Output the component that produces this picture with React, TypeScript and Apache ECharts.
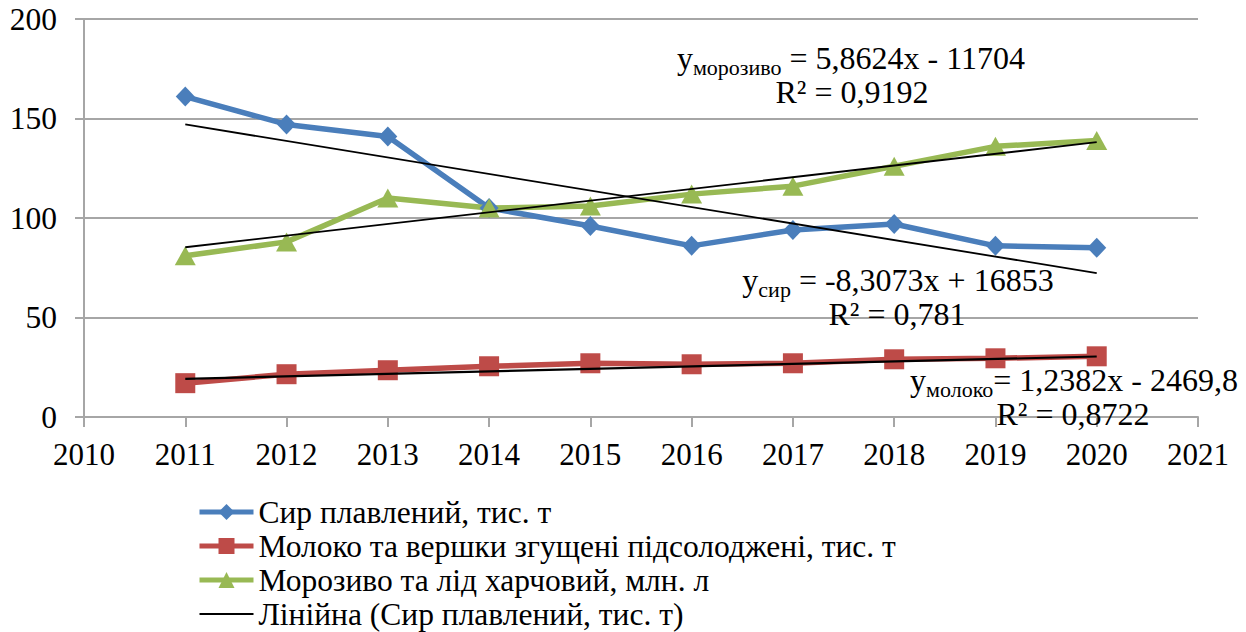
import React, { useEffect, useRef } from "react";
import * as echarts from "echarts";

const years = [2011, 2012, 2013, 2014, 2015, 2016, 2017, 2018, 2019, 2020];
const sir = [161, 147, 141, 105, 96, 86, 94, 97, 86, 85];
const moloko = [17, 21.5, 23.5, 25.5, 27, 26.5, 27, 29, 29.5, 30.5];
const morozivo = [81, 88, 110, 105, 106, 112, 116, 126, 136, 139];

const trendYears = [2011, 2020];
const sirTrend = [147.0, 72.3];
const molokoTrend = [19.2, 30.4];
const morozivoTrend = [85.3, 138.1];

const names = [
  "Сир плавлений, тис. т",
  "Молоко та вершки згущені підсолоджені, тис. т",
  "Морозиво та лід харчовий, млн. л",
  "Лінійна (Сир плавлений, тис. т)",
];

const FONT = "'Liberation Serif', 'Times New Roman', serif";
const GRID = "#a6a6a6";

const pairs = (xs: number[], ys: number[]) => xs.map((x, i) => [x, ys[i]]);

export default function App() {
  const ref = useRef<HTMLDivElement>(null);
  useEffect(() => {
    if (!ref.current) return;
    const chart = echarts.init(ref.current, null, { renderer: "svg" });
    const rich = {
      m: { fontFamily: FONT, fontSize: 32, lineHeight: 40, color: "#000" },
      s: { fontFamily: FONT, fontSize: 22, lineHeight: 21, verticalAlign: "bottom", color: "#000" },
    };
    const eq = (x: number, y: number, sub: string, rest: string) => ({
      type: "text",
      x,
      y,
      z: 10,
      style: {
        text: `{m|y}{s|${sub}}{m|${rest}}`,
        rich,
        align: "center",
        verticalAlign: "middle",
        fontFamily: FONT,
        fontSize: 32,
      },
    });
    const r2 = (x: number, y: number, t: string) => ({
      type: "text",
      x,
      y,
      z: 10,
      style: {
        text: t,
        align: "center",
        verticalAlign: "middle",
        fontFamily: FONT,
        fontSize: 32,
        fill: "#000",
      },
    });
    chart.setOption({
      animation: false,
      textStyle: { fontFamily: FONT },
      grid: { left: 84, right: 48, top: 19, bottom: 215 },
      xAxis: {
        type: "value",
        min: 2010,
        max: 2021,
        interval: 1,
        axisLine: { lineStyle: { color: GRID, width: 2 } },
        axisTick: { show: true, length: 10, lineStyle: { color: GRID, width: 2 } },
        splitLine: { show: false },
        axisLabel: {
          formatter: (v: number) => String(v),
          fontFamily: FONT,
          fontSize: 31,
          color: "#000",
          margin: 22,
        },
      },
      yAxis: {
        type: "value",
        min: 0,
        max: 200,
        interval: 50,
        axisLine: { show: true, lineStyle: { color: GRID, width: 2 } },
        axisTick: { show: true, length: 9, lineStyle: { color: GRID, width: 2 } },
        splitLine: { lineStyle: { color: GRID, width: 2 } },
        axisLabel: { fontFamily: FONT, fontSize: 31.5, color: "#000", margin: 27 },
      },
      legend: {
        orient: "vertical",
        left: 197,
        top: 496,
        padding: 0,
        itemWidth: 54,
        itemHeight: 20,
        itemGap: 2,
        textStyle: { fontFamily: FONT, fontSize: 31.5, lineHeight: 32, color: "#000" },
        data: [
          { name: names[0], lineStyle: { width: 5 } },
          { name: names[1], lineStyle: { width: 5 } },
          { name: names[2], lineStyle: { width: 5 } },
          {
            name: names[3],
            lineStyle: { width: 2, color: "#000" },
            itemStyle: { color: "rgba(0,0,0,0)", borderWidth: 0 },
          },
        ],
      },
      graphic: [
        eq(851, 58, "морозиво", " = 5,8624x - 11704"),
        r2(852, 92, "R² = 0,9192"),
        eq(898, 280, "сир", " = -8,3073x + 16853"),
        r2(897, 314, "R² = 0,781"),
        eq(1074, 380, "молоко", "= 1,2382x - 2469,8"),
        r2(1073, 414, "R² = 0,8722"),
      ],
      series: [
        {
          name: names[0],
          type: "line",
          data: pairs(years, sir),
          symbol: "diamond",
          symbolSize: [19, 20],
          lineStyle: { color: "#4a7ebb", width: 5.5 },
          itemStyle: { color: "#4a7ebb" },
        },
        {
          name: names[1],
          type: "line",
          data: pairs(years, moloko),
          symbol: "rect",
          symbolSize: 20,
          lineStyle: { color: "#be4b48", width: 5.5 },
          itemStyle: { color: "#be4b48" },
        },
        {
          name: names[2],
          type: "line",
          data: pairs(years, morozivo),
          symbol: "triangle",
          symbolSize: [21, 19],
          lineStyle: { color: "#98b954", width: 5.5 },
          itemStyle: { color: "#98b954" },
        },
        {
          name: names[3],
          type: "line",
          data: pairs(trendYears, sirTrend),
          symbol: "none",
          lineStyle: { color: "#000", width: 1.8 },
          itemStyle: { color: "#000" },
          z: 5,
        },
        {
          name: "Лінійна (Молоко)",
          type: "line",
          data: pairs(trendYears, molokoTrend),
          symbol: "none",
          lineStyle: { color: "#000", width: 2.2 },
          itemStyle: { color: "#000" },
          z: 5,
        },
        {
          name: "Лінійна (Морозиво)",
          type: "line",
          data: pairs(trendYears, morozivoTrend),
          symbol: "none",
          lineStyle: { color: "#000", width: 1.8 },
          itemStyle: { color: "#000" },
          z: 5,
        },
      ],
    });
    return () => chart.dispose();
  }, []);
  return (
    <div
      ref={ref}
      style={{ position: "absolute", left: 0, top: 0, width: 1246, height: 632, background: "#fff" }}
    />
  );
}
